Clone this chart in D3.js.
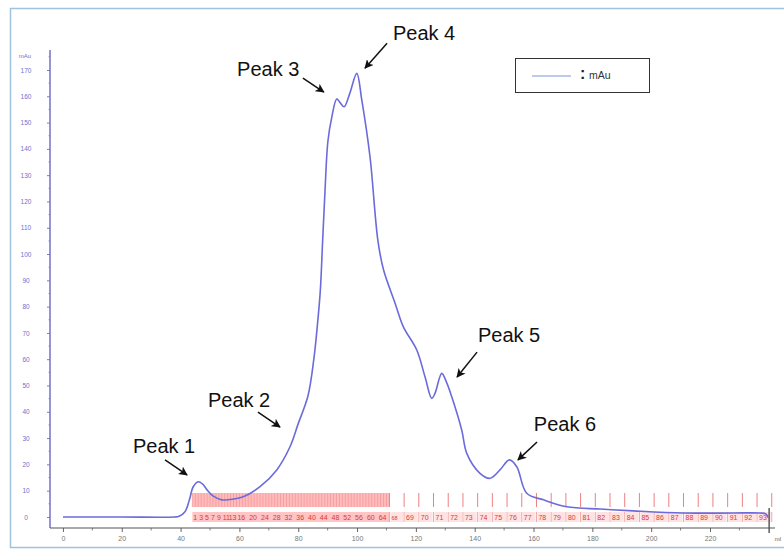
<!DOCTYPE html>
<html>
<head>
<meta charset="utf-8">
<script src="https://cdn.jsdelivr.net/npm/d3@7"></script>
<style>
  body { margin: 0; background: #ffffff; }
  svg { display: block; font-family: "Liberation Sans", Arial, sans-serif; }
</style>
</head>
<body>
<div id="chart"></div>
<script>
// chromatogram trace (ml, mAu)
var volume = [0, 20, 38, 39.5, 41.5, 43, 44.3, 46, 47.5, 49, 51, 54, 58, 61.3, 67, 72.7, 77.2, 80, 83.3,
  85.3, 86.6, 87.5, 88.3, 89.1, 90.1, 91.4, 93.1, 94.3, 95.6, 97.5, 99.9, 101.6, 104.4, 107.1, 109,
  112.9, 115.7, 120.3, 123.1, 125.4, 126.5, 128.8, 130.5, 132.2, 135.6, 137.3, 141.8, 145.2, 148.6,
  151.8, 154.3, 157.7, 163.4, 171.3, 182.7, 193.9, 210.9, 227.9, 237, 239, 239.8];
var absorbance = [0, 0, 0, 0.3, 2.0, 6.5, 11.5, 13.4, 12.5, 10.3, 8, 6.5, 6.8, 7.7, 11.5, 17.9, 26.7, 35.5, 46,
  60, 74, 86, 105, 124, 143, 152, 159, 157.5, 156, 161, 168.7, 158.6, 137, 105, 94,
  81.4, 72.4, 63.5, 53.3, 45.1, 47, 54.6, 51, 45.7, 33, 24.2, 16.6, 14.7, 17.9,
  21.7, 19.1, 9, 6.5, 3.9, 3, 2.3, 1.5, 1.5, 1.5, 1.2, -0.3];

// fraction collector edges (ml)
var smallFractionEdges = [44, 45, 46, 47, 48, 49, 50, 51, 52, 53, 54, 55, 56, 57, 58, 59, 60, 61, 62, 63, 64, 65,
  66, 67, 68, 69, 70, 71, 72, 73, 74, 75, 76, 77, 78, 79, 80, 81, 82, 83, 84, 85, 86, 87, 88, 89, 90,
  91, 92, 93, 94, 95, 96, 97, 98, 99, 100, 101, 102, 103, 104, 105, 106, 107, 108, 109, 110, 111];
var largeFractionEdges = [111, 116, 121, 126, 131, 136, 141, 146, 151, 156, 161, 166, 171, 176, 181, 186,
  191, 196, 201, 206, 211, 216, 221, 226, 231, 236, 241];
var smallFractionLabels = [1, 3, 5, 7, 9, 11, 13, 16, 20, 24, 28, 32, 36, 40, 44, 48, 52, 56, 60, 64];
var largeFractionLabels = [68, 69, 70, 71, 72, 73, 74, 75, 76, 77, 78, 79, 80, 81, 82, 83, 84, 85, 86, 87,
  88, 89, 90, 91, 92, 93];

var xTicks = [0, 20, 40, 60, 80, 100, 120, 140, 160, 180, 200, 220];
var yTicks = [0, 10, 20, 30, 40, 50, 60, 70, 80, 90, 100, 110, 120, 130, 140, 150, 160, 170];

// peak annotations: label, arrow tail, arrow tip, text anchor (all ml / mAu)
var peakNames = ["Peak 1", "Peak 2", "Peak 3", "Peak 4", "Peak 5", "Peak 6"];
var arrowTail = [[34.7, 21.7], [66.3, 39.9], [81.6, 166.9], [110.2, 180.2], [140.8, 62.7], [161.2, 28.5]];
var arrowTip = [[42.2, 16], [73.8, 34.2], [88.7, 161.6], [102.7, 170.7], [134, 53.2], [154.7, 21.7]];
var textAt = [[23.8, 24.3], [49.3, 41.8], [59.2, 167.7], [112.2, 181.4], [141.1, 66.5], [160.1, 32.7]];

var W = 784, H = 552;
var svg = d3.select("#chart").append("svg")
    .attr("width", W)
    .attr("height", H);

// window frame
svg.append("rect")
    .attr("x", 10.5).attr("y", 8.5)
    .attr("width", 790).attr("height", 539)
    .style("fill", "#ffffff")
    .style("stroke", "#9fc3dd")
    .style("stroke-width", 1.5);

var x = d3.scaleLinear().domain([-4.4, 242]).range([50, 774.7]);
var y = d3.scaleLinear().domain([-4.2, 177.6]).range([528, 50]);

// fraction bands
var frac = svg.append("g");
var bandTop = 493, bandBot = 507, labTop = 512, labBot = 522;

frac.append("rect")
    .attr("x", x(smallFractionEdges[0]))
    .attr("y", bandTop)
    .attr("width", x(smallFractionEdges[smallFractionEdges.length - 1]) - x(smallFractionEdges[0]))
    .attr("height", bandBot - bandTop)
    .style("fill", "#ffbcbc");
frac.append("rect")
    .attr("x", x(smallFractionEdges[0]))
    .attr("y", labTop)
    .attr("width", x(smallFractionEdges[smallFractionEdges.length - 1]) - x(smallFractionEdges[0]))
    .attr("height", labBot - labTop)
    .style("fill", "#ffc4c4");

frac.selectAll(".sline").data(smallFractionEdges).enter().append("line")
    .attr("x1", function(d) { return x(d); })
    .attr("x2", function(d) { return x(d); })
    .attr("y1", bandTop).attr("y2", bandBot)
    .style("stroke", "#f29494").style("stroke-width", 0.7);

frac.selectAll(".lline").data(largeFractionEdges).enter().append("line")
    .attr("x1", function(d) { return x(d); })
    .attr("x2", function(d) { return x(d); })
    .attr("y1", bandTop).attr("y2", bandBot)
    .style("stroke", "#ee8080").style("stroke-width", 1);

// label boxes for the large fractions
frac.selectAll(".lbox").data(largeFractionEdges.slice(0, -1)).enter().append("rect")
    .attr("x", function(d) { return x(d) + 1; })
    .attr("y", labTop)
    .attr("width", function(d, i) { return x(largeFractionEdges[i + 1]) - x(d) - 2; })
    .attr("height", labBot - labTop)
    .style("fill", "#ffe3e3");
frac.selectAll(".lsep").data(largeFractionEdges).enter().append("line")
    .attr("x1", function(d) { return x(d); })
    .attr("x2", function(d) { return x(d); })
    .attr("y1", labTop).attr("y2", labBot)
    .style("stroke", "#ee9090").style("stroke-width", 0.8);

frac.selectAll(".slab").data(smallFractionLabels).enter().append("text")
    .attr("x", function(d) { return x(smallFractionEdges[0] + d - 1) + 1; })
    .attr("y", labBot - 2)
    .style("font-size", "7px")
    .style("fill", "#d83a3a")
    .text(function(d) { return d; });

frac.selectAll(".llab").data(largeFractionLabels).enter().append("text")
    .attr("x", function(d, i) { return x(largeFractionEdges[i]) + 2; })
    .attr("y", labBot - 2)
    .style("font-size", function(d, i) { return i === 0 ? "5.5px" : "7px"; })
    .style("fill", "#d83a3a")
    .text(function(d) { return d; });

// end-of-run marker
svg.append("line")
    .attr("x1", x(240.1)).attr("x2", x(240.1))
    .attr("y1", 508).attr("y2", 533)
    .style("stroke", "#333").style("stroke-width", 1.2);

// y axis
var yAxis = svg.append("g")
    .attr("transform", "translate(50,0)")
    .call(d3.axisLeft(y).tickValues(yTicks).tickSize(3).tickPadding(16));
yAxis.select(".domain").remove();
yAxis.selectAll(".tick line").style("stroke", "#7b7bc8");
yAxis.selectAll(".tick text")
    .attr("text-anchor", "middle")
    .attr("x", -24)
    .style("font-size", "6.5px")
    .style("fill", "#6f6fcf");
svg.append("g").selectAll("line").data(yTicks.map(function(d) { return d + 5; })).enter().append("line")
    .attr("x1", 48.5).attr("x2", 50)
    .attr("y1", function(d) { return y(d); })
    .attr("y2", function(d) { return y(d); })
    .style("stroke", "#9a9ad6");
svg.append("line")
    .attr("x1", 50).attr("x2", 50).attr("y1", 50).attr("y2", 528)
    .style("stroke", "#7272c8").style("stroke-width", 1.5);
svg.append("text")
    .attr("x", 25).attr("y", 58)
    .attr("text-anchor", "middle")
    .style("font-size", "6px")
    .style("fill", "#6f6fcf")
    .text("mAu");

// x axis
var xAxis = svg.append("g")
    .attr("transform", "translate(0,528)")
    .call(d3.axisBottom(x).tickValues(xTicks).tickSize(4).tickPadding(4));
xAxis.select(".domain").remove();
xAxis.selectAll(".tick line").style("stroke", "#666");
xAxis.selectAll(".tick text")
    .style("font-size", "7px")
    .style("fill", "#777");
svg.append("g").selectAll("line").data(xTicks.map(function(d) { return d + 10; })).enter().append("line")
    .attr("x1", function(d) { return x(d); })
    .attr("x2", function(d) { return x(d); })
    .attr("y1", 528).attr("y2", 530.5)
    .style("stroke", "#888");
svg.append("line")
    .attr("x1", 50).attr("x2", 775).attr("y1", 528).attr("y2", 528)
    .style("stroke", "#555").style("stroke-width", 1.2);
svg.append("text")
    .attr("x", 778).attr("y", 541)
    .attr("text-anchor", "middle")
    .style("font-size", "6px")
    .style("fill", "#666")
    .text("ml");

// trace
var line = d3.line()
    .x(function(d) { return x(d[0]); })
    .y(function(d) { return y(d[1]); })
    .curve(d3.curveCatmullRom.alpha(0.5));
svg.append("path")
    .datum(d3.zip(volume, absorbance))
    .attr("d", line)
    .style("fill", "none")
    .style("stroke", "#6b6bdb")
    .style("stroke-width", 1.6);

// legend
svg.append("rect")
    .attr("x", 515.5).attr("y", 58.5)
    .attr("width", 134).attr("height", 34)
    .style("fill", "#fff")
    .style("stroke", "#333")
    .style("stroke-width", 1);
svg.append("line")
    .attr("x1", 532).attr("x2", 571).attr("y1", 76).attr("y2", 76)
    .style("stroke", "#7f95d6").style("stroke-width", 1.2);
svg.append("text")
    .attr("x", 580).attr("y", 79)
    .style("font-size", "16px").style("font-weight", "bold")
    .style("fill", "#222")
    .text(":");
svg.append("text")
    .attr("x", 589).attr("y", 79)
    .style("font-size", "10.5px")
    .style("fill", "#333")
    .text("mAu");

// arrows and peak names
var defs = svg.append("defs");
defs.append("marker")
    .attr("id", "head")
    .attr("viewBox", "0 0 10 10")
    .attr("refX", 9).attr("refY", 5)
    .attr("markerWidth", 9).attr("markerHeight", 9)
    .attr("markerUnits", "userSpaceOnUse")
    .attr("orient", "auto")
    .append("path")
    .attr("d", "M0,0 L10,5 L0,10 L2.5,5 z")
    .style("fill", "#111");

var notes = svg.append("g");
peakNames.forEach(function(name, i) {
    notes.append("line")
        .attr("x1", x(arrowTail[i][0])).attr("y1", y(arrowTail[i][1]))
        .attr("x2", x(arrowTip[i][0])).attr("y2", y(arrowTip[i][1]))
        .style("stroke", "#111").style("stroke-width", 1.5)
        .attr("marker-end", "url(#head)");
    notes.append("text")
        .attr("x", x(textAt[i][0])).attr("y", y(textAt[i][1]))
        .style("font-size", "20px")
        .style("fill", "#111")
        .text(name);
});
</script>
</body>
</html>
